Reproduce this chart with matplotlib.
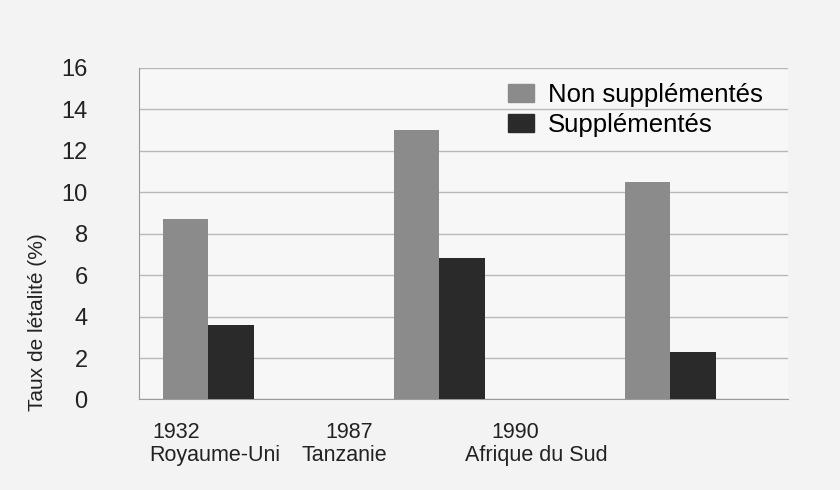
"""Taux de létalité : non supplémentés vs supplémentés (bar chart)."""

import matplotlib.pyplot as plt
import numpy as np
from matplotlib.patches import Patch

YEARS = ["1932", "1987", "1990"]
COUNTRIES = ["Royaume-Uni", "Tanzanie", "Afrique du Sud"]
NON_SUPP = [8.7, 13.0, 10.5]
SUPP = [3.6, 6.8, 2.3]
SERIES = ["Non supplémentés", "Supplémentés"]

# label centres (data x) for the two-line category labels
YEAR_X = [-0.14, 0.61, 1.33]
COUNTRY_X = [0.03, 0.59, 1.42]

GREY = "#8b8b8b"
DARK = "#2a2a2a"

plt.rcParams["font.family"] = ["Liberation Sans", "DejaVu Sans"]

fig = plt.figure(figsize=(8.4, 4.9), dpi=100, facecolor="#f3f3f3")
ax = fig.add_axes([0.1655, 0.1847, 0.7725, 0.6771], facecolor="#f7f7f7")

x = np.arange(len(YEARS))
w = 0.197
ax.bar(x - w / 2, NON_SUPP, w, color=GREY, zorder=3)
ax.bar(x + w / 2, SUPP, w, color=DARK, zorder=3)

ax.set_xlim(-0.30, 2.51)
ax.set_ylim(0, 16)
ax.set_yticks(range(0, 17, 2))
ax.set_xticks([])
ax.tick_params(axis="y", length=0, pad=37, labelsize=17, labelcolor="#222222")
ax.grid(axis="y", color="#b8b8b8", linewidth=1.0, zorder=0)

for side in ("top", "right"):
    ax.spines[side].set_visible(False)
ax.spines["left"].set_color("#9a9a9a")
ax.spines["bottom"].set_color("#9a9a9a")

ax.set_ylabel("Taux de létalité (%)", fontsize=15, color="#222222")
ax.yaxis.set_label_coords(-0.142, 0.233)

for xi, year in zip(YEAR_X, YEARS):
    ax.text(xi, -1.6, year, ha="center", va="center", fontsize=15.5, color="#222222")
for xi, name in zip(COUNTRY_X, COUNTRIES):
    ax.text(xi, -2.7, name, ha="center", va="center", fontsize=15.5, color="#222222")

handles = [Patch(color=GREY), Patch(color=DARK)]
ax.legend(handles, SERIES, loc="upper left", bbox_to_anchor=(0.569, 0.955),
          borderaxespad=0, borderpad=0, frameon=False, fontsize=18.5,
          handlelength=1.0, handleheight=0.7, handletextpad=0.55,
          labelspacing=0.26)

fig.savefig("out.png", dpi=100, facecolor=fig.get_facecolor())
